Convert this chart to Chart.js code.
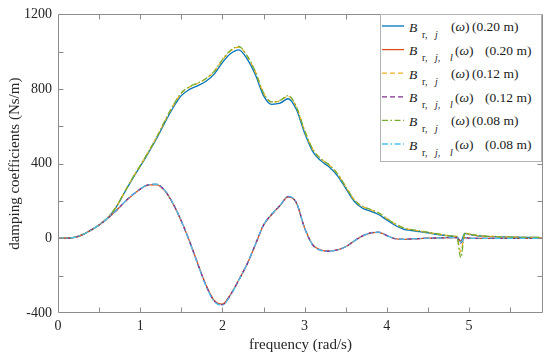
<!DOCTYPE html>
<html><head><meta charset="utf-8">
<script src="https://cdn.jsdelivr.net/npm/chart.js@4/dist/chart.umd.min.js"></script>
<style>
html,body{margin:0;padding:0;background:#fff;}
#wrap{position:relative;width:550px;height:358px;}
#c{position:absolute;left:0;top:0;width:550px;height:358px;}
#leg{position:absolute;left:0;top:0;pointer-events:none;}
</style></head>
<body><div id="wrap"><canvas id="c" width="550" height="358"></canvas>
<svg id="leg" width="550" height="358" xmlns="http://www.w3.org/2000/svg"></svg></div>
<script>
const freq = [0,0.1,0.2,0.3,0.4,0.5,0.6,0.7,0.8,0.9,1.0,1.1,1.2,1.3,1.4,1.5,1.6,1.7,1.8,1.9,2.0,2.1,2.2,2.3,2.4,2.5,2.6,2.7,2.8,2.9,3.0,3.1,3.2,3.3,3.4,3.5,3.6,3.7,3.8,3.9,4.0,4.1,4.2,4.3,4.4,4.5,4.6,4.7,4.8,4.85,4.9,4.95,5.0,5.1,5.2,5.3,5.4,5.5,5.6,5.7,5.8,5.9];

const Brj_020 = [0,1,5,20,44,72,108,162,238,315,
  385,458,535,620,700,765,798,818,842,880,
  942,990,1010,962,878,765,718,724,748,690,
  565,465,415,382,335,268,200,163,146,128,
  98,70,50,42,36,30,22,16,11,
  9,-15,26,
  22,14,11,9,8,7,6,5,5,4];
const Brjl_020 = [0,1,5,20,44,72,106,145,190,230,
  263,286,287,255,185,93,-15,-135,-250,-332,
  -352,-300,-222,-138,-35,70,128,175,222,190,
  55,-35,-63,-68,-62,-45,-15,12,28,32,
  15,-2,-5,-3,-1,1,2,3,4,
  4,-15,4,
  1,0,0,0,0,0,0,0,0,0];
const Brj_012 = [0,1,5,20,44,72,108,163,240,318,
  389,463,541,628,710,777,811,831,855,893,
  956,1005,1025,977,892,778,730,737,762,703,
  577,476,425,392,345,277,208,171,154,136,
  106,77,56,46,39,32,24,18,12,
  10,-72,28,
  23,15,12,10,8,7,6,5,5,4];
const Brjl_012 = [0,1,5,20,44,72,106,145,190,231,
  264,287,289,256,186,93,-16,-137,-252,-335,
  -355,-302,-223,-138,-34,71,129,176,224,191,
  55,-36,-64,-69,-62,-45,-15,12,29,33,
  15,-2,-5,-3,-1,1,2,3,4,
  4,-25,4,
  1,0,0,0,0,0,0,0,0,0];
const Brj_008 = [0,1,5,20,44,72,108,163,241,319,
  390,464,542,630,712,779,813,833,857,895,
  958,1008,1028,979,894,780,731,739,765,705,
  578,477,426,393,346,278,209,172,155,137,
  107,78,57,47,40,33,25,19,13,
  10,-103,29,
  23,15,12,10,8,7,6,5,5,4];
const Brjl_008 = [0,1,5,20,44,72,106,146,191,232,
  265,288,290,257,186,93,-17,-139,-255,-338,
  -358,-304,-224,-138,-33,72,130,177,226,192,
  55,-36,-64,-69,-62,-45,-15,12,29,33,
  15,-2,-5,-3,-1,1,2,3,4,
  4,-20,4,
  1,0,0,0,0,0,0,0,0,0];

const xTicks = [0,1,2,3,4,5];
const yTicks = [-400,0,400,800,1200];
const seriesKinds = ['rj','rjl','rj','rjl','rj','rjl'];
const seriesSizes = ['0.20 m','0.20 m','0.12 m','0.12 m','0.08 m','0.08 m'];
const seriesValues = [Brj_020,Brjl_020,Brj_012,Brjl_012,Brj_008,Brjl_008];
const colors = ['#0072BD','#D95319','#EDB120','#7E2F8E','#77AC30','#4DBEEE'];
const dashes = [[],[],[5,3],[5,3],[6,2.5,1.5,2.5],[6,2.5,1.5,2.5]];

const FONT = 'Liberation Serif';
const datasets = seriesValues.map((vals,i)=>({
  data: freq.map((f,k)=>({x:f,y:vals[k]})),
  borderColor: colors[i], borderWidth: 1.3, borderDash: dashes[i],
  pointRadius: 0, fill:false, cubicInterpolationMode:'monotone',
  order: 6 - i
}));

const frame = {
  id:'frame',
  afterDatasetsDraw(chart){
    const {ctx, chartArea:a, scales:{x,y}} = chart;
    ctx.save();
    ctx.strokeStyle = '#8c8c8c'; ctx.lineWidth = 1;
    const L = Math.round(a.left)+0.5, R = Math.round(a.right)-0.5, T = Math.round(a.top)+0.5, B = Math.round(a.bottom)-0.5;
    ctx.beginPath();
    ctx.rect(L, T, R-L, B-T);
    x.ticks.forEach(t=>{
      const p = Math.round(x.getPixelForValue(t.value))+0.5;
      if (p<=L+1 || p>=R-1) return;
      ctx.moveTo(p,B); ctx.lineTo(p,B-5);
      ctx.moveTo(p,T); ctx.lineTo(p,T+5);
    });
    y.ticks.forEach(t=>{
      const p = Math.round(y.getPixelForValue(t.value))+0.5;
      if (p<=T+1 || p>=B-1) return;
      ctx.moveTo(L,p); ctx.lineTo(L+5,p);
      ctx.moveTo(R,p); ctx.lineTo(R-5,p);
    });
    ctx.stroke();
    ctx.restore();
  }
};

new Chart(document.getElementById('c'), {
  type:'line',
  data:{datasets},
  plugins:[frame],
  options:{
    responsive:false, animation:false, devicePixelRatio:1,
    layout:{padding:{top:7,right:7,left:0,bottom:0}},
    plugins:{legend:{display:false}, tooltip:{enabled:false}},
    scales:{
      x:{type:'linear', min:0, max:5.9,
        ticks:{stepSize:0.5, includeBounds:false, autoSkip:false, maxRotation:0, minRotation:0, padding:5,
          color:'#262626', font:{family:FONT,size:14},
          callback:v=> xTicks.includes(v) ? String(v) : ''},
        grid:{display:false, drawTicks:false}, border:{display:false},
        title:{display:true, text:'frequency (rad/s)', color:'#262626', font:{family:FONT,size:15}, padding:{top:0,bottom:4}},
        afterFit:s=>{s.height=45;}
      },
      y:{type:'linear', min:-400, max:1200,
        ticks:{stepSize:200, autoSkip:false, padding:6, color:'#262626', font:{family:FONT,size:14},
          callback:v=> yTicks.includes(v) ? String(v) : ''},
        grid:{display:false, drawTicks:false}, border:{display:false},
        title:{display:true, text:'damping coefficients (Ns/m)', color:'#262626', font:{family:FONT,size:15}, padding:{top:6,bottom:0}},
        afterFit:s=>{s.width=58;}
      }
    }
  }
});

// Legend (SVG text)
(function(){
  const NS='http://www.w3.org/2000/svg';
  const svg=document.getElementById('leg');
  function el(tag,attrs,parent){const e=document.createElementNS(NS,tag);for(const k in attrs)e.setAttribute(k,attrs[k]);(parent||svg).appendChild(e);return e;}
  el('rect',{x:380.5,y:14.5,width:161,height:147,fill:'#fff',stroke:'#b4b4b4','stroke-width':1});
  function txt(x,y,s,size,italic){const t=el('text',{x:x,y:y,'font-family':FONT,'font-size':size,fill:'#1a1a1a','font-style':italic?'italic':'normal'});t.textContent=s;return t;}
  function omega(x,y){
    const t=el('text',{x:x,y:y,'font-family':FONT,'font-size':13.5,fill:'#1a1a1a'});
    const a=el('tspan',{},t); a.textContent='(';
    const b=el('tspan',{'font-style':'italic'},t); b.textContent='ω';
    const c=el('tspan',{},t); c.textContent=')';
    return t;
  }
  seriesKinds.forEach((k,i)=>{
    const cy = 26 + 23.6*i;
    el('line',{x1:382,x2:404,y1:cy,y2:cy,stroke:colors[i],'stroke-width':1.3,'stroke-dasharray':dashes[i].length?dashes[i].join(' '):'none'});
    txt(409,cy+5.5,'B',13.5,true);
    txt(422,cy+11.5,'r,',10,false);
    if(k==='rj'){
      txt(435,cy+11.5,'j',10,true);
      omega(451,cy+5);
      txt(472,cy+5,'('+seriesSizes[i]+')',13.5,false);
    } else {
      txt(435,cy+11.5,'j,',10,true);
      txt(450,cy+11.5,'l',10,true);
      omega(455,cy+5);
      txt(485,cy+5,'('+seriesSizes[i]+')',13.5,false);
    }
  });
})();
</script>
</body></html>
